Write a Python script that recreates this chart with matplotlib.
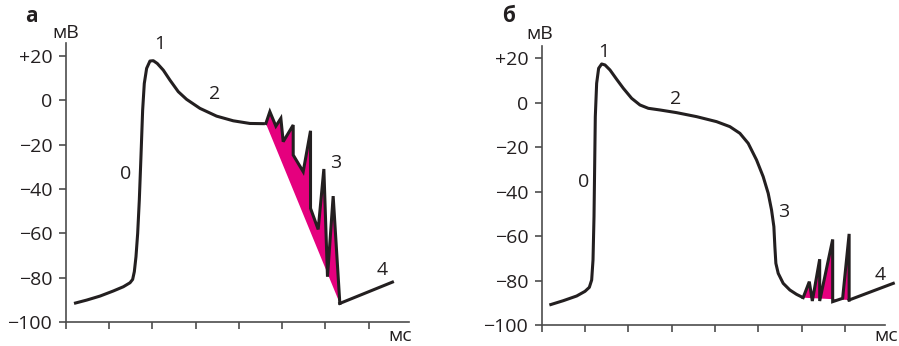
import matplotlib
matplotlib.use("Agg")
import matplotlib.pyplot as plt

plt.rcParams['font.family'] = ['Open Sans', 'DejaVu Sans']

BLACK = '#231f20'
MAGENTA = '#e5007e'
SPINE = '#4d4d4d'

# ---------------- data (x in tick units, y in mV) ----------------
y_ticks = [-100, -80, -60, -40, -20, 0, 20]
y_tick_labels = ['−100', '−80', '−60', '−40', '−20', '0', '+20']
x_ticks = [0, 1, 2, 3, 4, 5, 6, 7]

# panel а : smooth part
a_x = [0.192, 0.485, 0.792, 1.1, 1.331, 1.485, 1.546, 1.585, 1.623, 1.662, 1.7, 1.738,
       1.777, 1.815, 1.869, 1.946, 2.023, 2.115, 2.254, 2.408, 2.6, 2.792, 3.1, 3.485,
       3.869, 4.254, 4.6]
a_y = [-91.5, -90.0, -88.2, -85.9, -84.0, -82.2, -80.7, -77.2, -70.5, -60.0, -45.0, -25.5,
       -4.5, 7.5, 14.3, 17.6, 17.75, 16.5, 13.5, 9.0, 3.8, 0.35, -3.7, -7.2,
       -9.3, -10.5, -10.6]
# panel а : oscillations
a_zig_x = [4.623, 4.715, 4.854, 4.969, 5.023, 5.254, 5.254, 5.485, 5.654, 5.654, 5.831,
           5.962, 6.046, 6.177, 6.331]
a_zig_y = [-10.5, -5.2, -11.7, -8.2, -18.7, -11.2, -24.7, -32.2, -13.8, -48.7, -58.2,
           -31.0, -79.5, -43.2, -91.5]
a_tail_x = [6.331, 7.546]
a_tail_y = [-91.5, -81.9]

# panel б : smooth part
b_x = [0.177, 0.5, 0.808, 1.0, 1.1, 1.154, 1.185, 1.208, 1.223, 1.238, 1.269, 1.315, 1.385,
       1.462, 1.577, 1.731, 1.885, 2.077, 2.269, 2.462, 2.731, 3.115, 3.577, 4.038, 4.346,
       4.577, 4.769, 4.962, 5.115, 5.231, 5.308, 5.362, 5.385, 5.408, 5.462, 5.577, 5.731,
       5.885, 6.038]
b_y = [-91.0, -89.05, -86.95, -84.85, -83.05, -79.75, -70.75, -51.25, -28.75, -6.25, 8.75,
       15.5, 17.45, 17.0, 14.75, 10.55, 6.5, 2.0, -1.0, -2.5, -3.25, -4.45, -6.25, -8.5,
       -10.75, -13.75, -18.25, -25.75, -33.25, -40.75, -48.25, -55.75, -64.75, -72.25,
       -76.75, -81.25, -84.25, -86.2, -87.7]
b_zig_x = [6.038, 6.18, 6.25, 6.42, 6.42, 6.72, 6.72, 6.95, 7.1, 7.1]
b_zig_y = [-87.7, -80.5, -89.2, -70.4, -89.2, -61.5, -89.5, -88.0, -59.0, -88.75]
b_tail_x = [7.1, 8.12]
b_tail_y = [-88.75, -81.25]

# phase labels
phase_labels = ['0', '1', '2', '3', '4']
a_lab_x = [1.385, 2.18, 3.45, 6.24, 7.32]
a_lab_y = [-33.2, 25.1, 2.6, -28.4, -76.4]
b_lab_x = [0.96, 1.44, 3.09, 5.58, 7.81]
b_lab_y = [-35.5, 23.0, 1.55, -49.0, -77.5]

W, H = 899, 346
fig = plt.figure(figsize=(W / 100, H / 100), dpi=100)

FS = 14


def setup(ax):
    ax.set_xlim(0, 8.3)
    ax.set_ylim(-100, 26)
    for s in ['top', 'right']:
        ax.spines[s].set_visible(False)
    for s in ['left', 'bottom']:
        ax.spines[s].set_color(SPINE)
        ax.spines[s].set_linewidth(1.2)
    ax.spines['left'].set_bounds(-100, 25.5)
    ax.spines['bottom'].set_bounds(0, 7.93)
    ax.set_yticks(y_ticks)
    ax.set_yticklabels(y_tick_labels)
    ax.set_xticks(x_ticks)
    ax.set_xticklabels([])
    ax.tick_params(axis='both', color=SPINE, width=1.2, length=5.2, labelsize=FS,
                   labelcolor=BLACK, direction='out')
    ax.tick_params(axis='y', pad=4.5)
    ax.patch.set_visible(False)


def px_axes(left_px, y100_px, yp20_px):
    unit = 43.3
    width = 8.3 * unit
    pxmv = (y100_px - yp20_px) / 120.0
    height = 126 * pxmv
    return [left_px / W, (H - y100_px) / H, width / W, height / H]


axA = fig.add_axes(px_axes(65.7, 322.3, 55.7))
axB = fig.add_axes(px_axes(541.7, 325.0, 58.3))

for ax in (axA, axB):
    setup(ax)

lw = 2.2
# panel а
axA.fill(a_zig_x, a_zig_y, color=MAGENTA, lw=0, zorder=2)
axA.plot(a_x, a_y, color=BLACK, lw=lw, solid_joinstyle='round', solid_capstyle='butt', zorder=3)
axA.plot(a_zig_x, a_zig_y, color=BLACK, lw=lw, solid_joinstyle='miter', zorder=3)
axA.plot(a_tail_x, a_tail_y, color=BLACK, lw=lw, solid_joinstyle='miter', zorder=3)

# panel б
axB.fill(b_zig_x, b_zig_y, color=MAGENTA, lw=0, zorder=2)
axB.plot(b_x, b_y, color=BLACK, lw=lw, solid_joinstyle='round', solid_capstyle='butt', zorder=3)
axB.plot(b_zig_x, b_zig_y, color=BLACK, lw=lw, solid_joinstyle='miter', zorder=3)
axB.plot(b_tail_x, b_tail_y, color=BLACK, lw=lw, solid_joinstyle='miter', zorder=3)

for ax, xs, ys in ((axA, a_lab_x, a_lab_y), (axB, b_lab_x, b_lab_y)):
    for t, x, y in zip(phase_labels, xs, ys):
        ax.text(x, y, t, fontsize=FS, color=BLACK, ha='center', va='center')

# unit labels
axA.text(0.0, 27.8, 'мВ', fontsize=FS, color=BLACK, ha='center', va='baseline', clip_on=False)
axA.text(7.72, -108.6, 'мс', fontsize=FS, color=BLACK, ha='center', va='baseline', clip_on=False)
axB.text(-0.05, 28.5, 'мВ', fontsize=FS, color=BLACK, ha='center', va='baseline', clip_on=False)
axB.text(7.96, -107.3, 'мс', fontsize=FS, color=BLACK, ha='center', va='baseline', clip_on=False)

# panel letters
fig.text(31.7 / W, 1 - 16.7 / H, 'а', fontsize=FS + 1, fontweight='bold', color=BLACK,
         ha='center', va='center')
fig.text(508.3 / W, 1 - 16.7 / H, 'б', fontsize=FS + 1, fontweight='bold', color=BLACK,
         ha='center', va='center')

fig.savefig('out.png', dpi=100)
